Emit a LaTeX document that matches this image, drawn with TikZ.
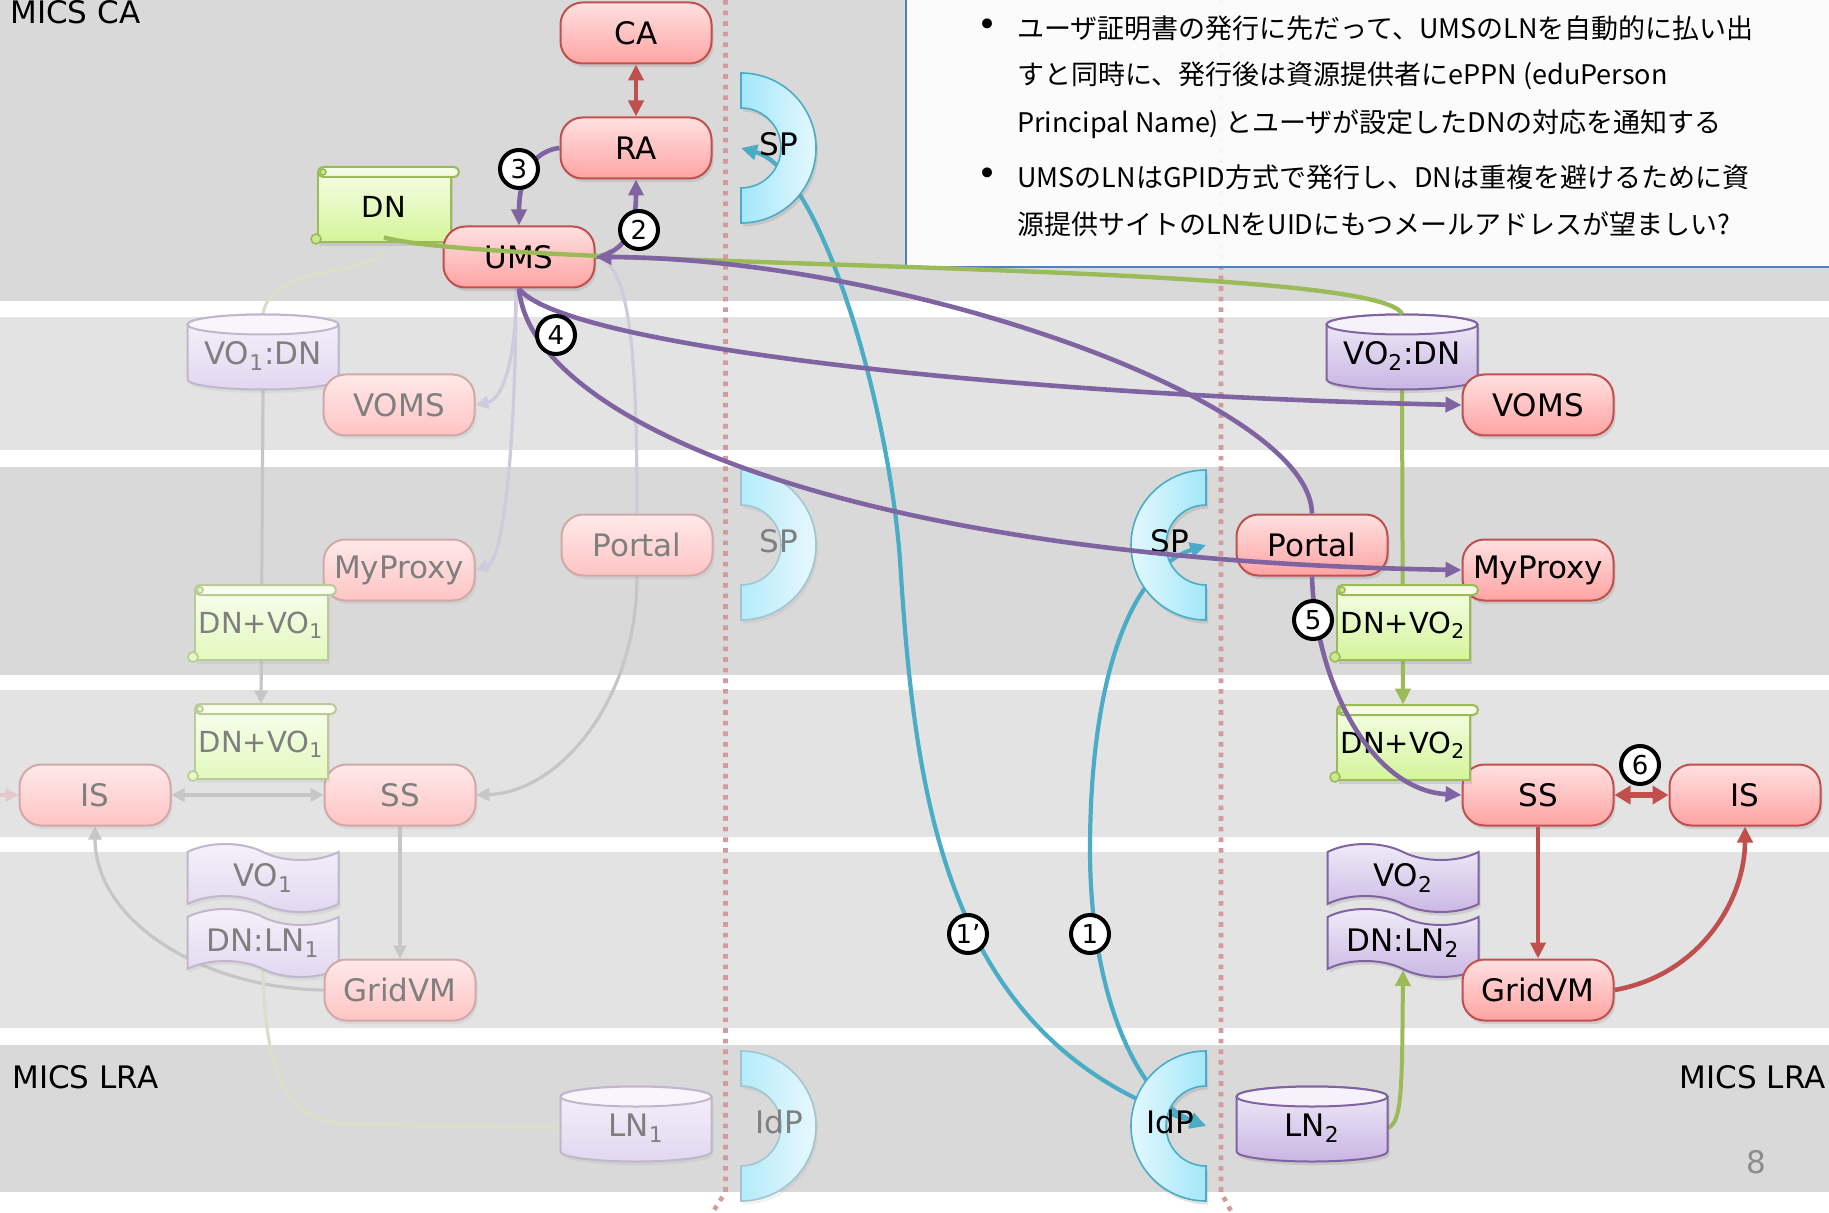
\documentclass[tikz,border=0pt]{standalone}
\usepackage{fontspec}
\setmainfont{DejaVu Sans}
\newfontfamily\jpfont{Noto Sans CJK JP}
\usetikzlibrary{arrows.meta,shapes.symbols,shadows}
\pgfdeclarelayer{back}
\pgfdeclarelayer{under}
\pgfsetlayers{back,under,main}

\definecolor{bandD}{HTML}{D9D9D9}
\definecolor{bandL}{HTML}{E3E3E3}
\definecolor{cRed}{HTML}{C0504D}
\definecolor{cPur}{HTML}{8064A2}
\definecolor{cGrn}{HTML}{9BBB59}
\definecolor{cCya}{HTML}{4BACC6}
\definecolor{pinkT}{HTML}{FFE0E0}
\definecolor{pinkB}{HTML}{FFA4A4}
\definecolor{grnT}{HTML}{F4FDE4}
\definecolor{grnB}{HTML}{D4F59A}
\definecolor{lavT}{HTML}{F1ECF8}
\definecolor{lavB}{HTML}{C9B6E4}
\definecolor{lavTop}{HTML}{F5F2FB}
\definecolor{cyaDA}{HTML}{A2E7FA}
\definecolor{cyaLA}{HTML}{E4F8FE}
\definecolor{cyaDF}{HTML}{B4EBFA}
\definecolor{cyaLF}{HTML}{E8F8FD}
\definecolor{dotc}{HTML}{D39B9B}
\definecolor{boxb}{HTML}{4F81BD}
\definecolor{fadeT}{HTML}{7F7F7F}
\definecolor{fadeLine}{HTML}{C6C6C6}
\definecolor{fadeLav}{HTML}{CFCBDD}
\definecolor{fadeGrn}{HTML}{D9E0C8}
\definecolor{fadeRed}{HTML}{E3C9C9}

\tikzset{
 lbl/.style={font=\fontsize{15.5}{18}\selectfont},
 shd/.style={drop shadow={shadow xshift=1pt, shadow yshift=-1.8pt, opacity=0.22}},
 shdF/.style={drop shadow={shadow xshift=1pt, shadow yshift=-1.8pt, opacity=0.1}},
 pillbase/.style={rectangle, rounded corners=11pt, line width=1pt, minimum width=75.5pt, minimum height=30.5pt, inner sep=0pt, lbl},
 pill/.style={pillbase, draw=cRed, top color=pinkT, bottom color=pinkB, shd},
 pillF/.style={pillbase, draw=cRed!35!bandD, top color=pinkT!70!white, bottom color=pinkB!65!white, text=fadeT, shdF},
 tapebase/.style={tape, tape bend top=out and in, tape bend bottom=out and in, tape bend height=8pt, line width=1pt, minimum width=75.5pt, minimum height=34pt, inner sep=0pt, lbl},
 tapeA/.style={tapebase, draw=cPur, top color=lavT, bottom color=lavB, shd},
 tapeF/.style={tapebase, draw=cPur!35!bandL, top color=lavT!70!white, bottom color=lavB!55!white, text=fadeT, shdF},
 cylbodyA/.style={draw=cPur, line width=1pt, top color=lavT, bottom color=lavB, shd},
 cylbodyF/.style={draw=cPur!35!bandL, line width=1pt, top color=lavT!70!white, bottom color=lavB!55!white, shdF},
 cyltopA/.style={draw=cPur, line width=1pt, fill=lavTop},
 cyltopF/.style={draw=cPur!35!bandL, line width=1pt, fill=lavTop!70!white},
 cyltextA/.style={lbl, minimum width=75.5pt, minimum height=37.5pt, inner sep=0pt, yshift=-2pt},
 cyltextF/.style={cyltextA, text=fadeT},
 scrbodyA/.style={draw=cGrn, line width=1pt, top color=grnT, bottom color=grnB, shd},
 scrbodyF/.style={draw=cGrn!50!bandD, line width=1pt, top color=grnT!70!white, bottom color=grnB!65!white, shdF},
 scrrollA/.style={draw=cGrn, line width=1pt, fill=grnT, rounded corners=2.5pt},
 scrrollF/.style={draw=cGrn!50!bandD, line width=1pt, fill=grnT!70!white, rounded corners=2.5pt},
 scrcurlA/.style={draw=cGrn, line width=0.8pt, fill=grnB!80!cGrn},
 scrcurlF/.style={draw=cGrn!50!bandD, line width=0.8pt, fill=grnB!60!white},
 scrtextA/.style={font=\fontsize{14.5}{17}\selectfont, minimum width=66pt, minimum height=40pt, inner sep=0pt},
 scrtextF/.style={scrtextA, text=fadeT},
 crescA/.style={draw=cCya, line width=0.8pt, shd},
 crescF/.style={draw=cCya!40!bandD, line width=0.8pt, shdF},
 cresctextA/.style={lbl, inner sep=0pt},
 cresctextF/.style={lbl, inner sep=0pt, text=fadeT},
 circ/.style={circle, draw=black, line width=2pt, fill=white, minimum size=19pt, inner sep=0pt, font=\fontsize{13}{15}\selectfont},
 jp/.style={font=\jpfont\fontsize{13.5}{16}\selectfont, inner sep=0pt, anchor=west},
 bul/.style={font=\fontsize{17}{18}\selectfont, inner sep=0pt},
 mics/.style={font=\fontsize{15.5}{18}\selectfont, inner sep=0pt},
 dotline/.style={draw=dotc, line width=2.3pt, dash pattern=on 2.3pt off 3pt},
 >={Triangle[length=8pt,width=7.5pt]},
 arP/.style={draw=cPur, line width=2.3pt, ->},
 arC/.style={draw=cCya, line width=2.1pt, <->},
 arR/.style={draw=cRed, line width=2.3pt, ->},
 arRR/.style={draw=cRed, line width=2.2pt, <->},
 arRRt/.style={draw=cRed, line width=3pt, <->, >={Triangle[length=8pt,width=9pt]}},
 arG/.style={draw=cGrn, line width=2pt, ->},
 lnG/.style={draw=cGrn, line width=2.2pt},
 arF/.style={draw=fadeLine, line width=1.6pt, ->, >={Triangle[length=6.5pt,width=6.5pt]}},
 arFF/.style={arF, <->},
 arFL/.style={arF, draw=fadeLav},
 lnFL/.style={draw=fadeLav, line width=1.6pt},
 lnFG/.style={draw=fadeGrn, line width=1.6pt},
}

\newcommand\Scroll[5]{%
 \path[scrbody#5] ({#2-66},{#3-35}) rectangle ({#2+67},{#3+35});
 \path[scrroll#5] ({#2-66},{#3-40}) rectangle ({#2+75},{#3-30});
 \path[scrcurl#5] ({#2-68},{#3+32}) circle[radius=5];
 \path[scrcurl#5] ({#2-61},{#3-35}) circle[radius=3];
 \node[scrtext#5] (#1) at (#2,#3) {#4};}

\newcommand\Cyl[5]{%
 \path[cylbody#5] ({#2-75.5},{#3-27.5}) -- ({#2-75.5},{#3+27.5}) arc[start angle=180,end angle=0,x radius=75.5,y radius=10] -- ({#2+75.5},{#3-27.5}) arc[start angle=0,end angle=-180,x radius=75.5,y radius=10] -- cycle;
 \path[cyltop#5] (#2,{#3-27.5}) ellipse[x radius=75.5,y radius=10];
 \node[cyltext#5] (#1) at (#2,#3) {#4};}

\newcommand\CrescR[5]{%
 \path[cresc#5, left color=cyaD#5, right color=cyaL#5] (#2,{#3-75}) arc[start angle=-90,end angle=90,radius=75] -- (#2,{#3+40}) arc[start angle=90,end angle=-90,radius=40] -- cycle;
 \coordinate (#1c) at (#2,#3);
 \node[cresctext#5] (#1) at ({#2+38},{#3-4}) {#4};}

\newcommand\CrescL[5]{%
 \path[cresc#5, left color=cyaL#5, right color=cyaD#5] (#2,{#3-75}) arc[start angle=-90,end angle=-270,radius=75] -- (#2,{#3+40}) arc[start angle=90,end angle=270,radius=40] -- cycle;
 \coordinate (#1c) at (#2,#3);
 \node[cresctext#5] (#1) at ({#2-36},{#3-4}) {#4};}

\begin{document}
\begin{tikzpicture}[x=0.5pt,y=-0.5pt]
\useasboundingbox (0,0) rectangle (1829,1213);

\begin{pgfonlayer}{back}
 \fill[white] (0,0) rectangle (1829,1213);
 \fill[bandD] (0,0) rectangle (1829,301);
 \fill[bandL] (0,317) rectangle (1829,450);
 \fill[bandD] (0,467) rectangle (1829,675);
 \fill[bandL] (0,690) rectangle (1829,837);
 \fill[bandL] (0,852) rectangle (1829,1028);
 \fill[bandD] (0,1045) rectangle (1829,1192);
 \draw[dotline] (725.5,0) -- (725.5,1192) -- (711,1215);
 \draw[dotline] (1221,0) -- (1221,1192) -- (1233,1215);
 \path[fill=white, fill opacity=0.9, draw=boxb, line width=1pt] (906,-10) rectangle (1840,267);
\end{pgfonlayer}

% text box
\node[bul] (b1) at (988,28) {•};
\node[jp] (t1) at (1017,28) {ユーザ証明書の発行に先だって、UMSのLNを自動的に払い出};
\node[jp] (t2) at (1017,76) {すと同時に、発行後は資源提供者にePPN (eduPerson};
\node[jp] (t3) at (1017,124) {Principal Name) とユーザが設定したDNの対応を通知する};
\node[bul] (b2) at (988,177) {•};
\node[jp] (t4) at (1017,177) {UMSのLNはGPID方式で発行し、DNは重複を避けるために資};
\node[jp] (t5) at (1017,224) {源提供サイトのLNをUIDにもつメールアドレスが望ましい?};

% cylinders
\Cyl{vo1dn}{263}{352}{VO\textsubscript{1}:DN}{F}
\Cyl{vo2dn}{1402}{352}{VO\textsubscript{2}:DN}{A}
\Cyl{ln1}{636}{1124}{LN\textsubscript{1}}{F}
\Cyl{ln2}{1312}{1124}{LN\textsubscript{2}}{A}

% tapes
\node[tapeF] (vo1) at (263,878) {VO\textsubscript{1}};
\node[tapeF] (dnln1) at (263,943) {DN:LN\textsubscript{1}};
\node[tapeA] (vo2) at (1403,878) {VO\textsubscript{2}};
\node[tapeA] (dnln2) at (1403,943) {DN:LN\textsubscript{2}};

% DN scroll
\Scroll{dn}{384}{207}{DN}{A}

% pills
\node[pill] (ca) at (636,33) {CA};
\node[pill] (ra) at (636,148) {RA};
\node[pill] (ums) at (519,257) {UMS};
\node[pill] (vomsR) at (1538,405) {VOMS};
\node[pill] (portalR) at (1312,545) {Portal};
\node[pill] (myproxyR) at (1538,570) {MyProxy};
\node[pill] (ssR) at (1538,795) {SS};
\node[pill] (isR) at (1745,795) {IS};
\node[pill] (gridvmR) at (1538,990) {GridVM};
\node[pillF] (vomsL) at (399,405) {VOMS};
\node[pillF] (myproxyL) at (399,570) {MyProxy};
\node[pillF] (portalL) at (637,545) {Portal};
\node[pillF] (isL) at (95,795) {IS};
\node[pillF] (ssL) at (400,795) {SS};
\node[pillF] (gridvmL) at (400,990) {GridVM};

% scrolls
\Scroll{dnvo1a}{261}{625}{DN+VO\textsubscript{1}}{F}
\Scroll{dnvo1b}{261}{744}{DN+VO\textsubscript{1}}{F}
\Scroll{dnvo2a}{1403}{625}{DN+VO\textsubscript{2}}{A}
\Scroll{dnvo2b}{1403}{745}{DN+VO\textsubscript{2}}{A}

% crescents
\CrescR{spA}{741}{148}{SP}{A}
\CrescR{spM}{741}{545}{SP}{F}
\CrescR{idpL}{741}{1126}{IdP}{F}
\CrescL{spB}{1206}{545}{SP}{A}
\CrescL{idpB}{1206}{1126}{IdP}{A}

\coordinate (ledge) at (-10,795);

% connectors beneath nodes
\begin{pgfonlayer}{under}
 % faded
 \draw[lnFG] ([yshift=-2pt]dn.south) .. controls (370,275) and (270,265) .. ([yshift=2pt]vo1dn.north);
 \draw[arF] ([yshift=2pt]vo1dn.south) -- (dnvo1b.north);
 \draw[arFL] ([xshift=-1.5pt]ums.south) .. controls (516,370) and (500,400) .. (vomsL.east);
 \draw[arFL] ([xshift=-1.5pt]ums.south) .. controls (516,430) and (505,560) .. (myproxyL.east);
 \draw[lnFL] (portalL.north) .. controls (637,350) and (630,262) .. (ums.east);
 \draw[arF] (portalL.south) .. controls (637,700) and (560,792) .. (ssL.east);
 \draw[arFF] (isL.east) -- (ssL.west);
 \draw[arF] (ssL.south) -- (gridvmL.north);
 \draw[arF] (gridvmL.west) .. controls (200,988) and (95,920) .. (isL.south);
 \draw[lnFG] (ln1.west) -- (350,1124) .. controls (290,1124) and (265,1080) .. (dnln1.south);
 \draw[arF, draw=fadeRed] (ledge) -- (isL.west);
 % cyan
 \draw[arC] (spAc) .. controls (820,170) and (888,400) .. (900,560) .. controls (915,800) and (945,1040) .. (idpBc);
 \draw[arC] (spBc) .. controls (1130,570) and (1090,680) .. (1090,850) .. controls (1090,1000) and (1140,1100) .. (idpBc);
 % green
 \draw[arG] ([yshift=2pt]vo2dn.south) -- (dnvo2b.north);
 \draw[arG] (ln2.east) .. controls (1402,1122) and (1402,1090) .. (dnln2.south);
\end{pgfonlayer}

% connectors on top
\draw[arRR] (ca.south) -- (ra.north);
\draw[arP] (ra.west) .. controls (525,152) and (519,190) .. (ums.north);
\draw[arP] (ums.east) .. controls (630,252) and (636,220) .. (ra.south);
\draw[lnG] ([yshift=5pt]dn.south) .. controls (500,270) and (1380,260) .. ([yshift=2pt]vo2dn.north);
\draw[arP] (portalR.north) .. controls (1310,400) and (900,258) .. (ums.east);
\draw[arP] (ums.south) .. controls (560,345) and (1000,395) .. (vomsR.west);
\draw[arP] (ums.south) .. controls (530,420) and (850,560) .. (myproxyR.west);
\draw[arP] (portalR.south) .. controls (1315,680) and (1370,790) .. (ssR.west);
\draw[arR] (ssR.south) -- (gridvmR.north);
\draw[arR] (gridvmR.east) .. controls (1700,975) and (1745,900) .. (isR.south);
\draw[arRRt] (ssR.east) -- (isR.west);

% circled numbers
\node[circ] (n3) at (519,169) {3};
\node[circ] (n2) at (639,230) {2};
\node[circ] (n4) at (556,335) {4};
\node[circ] (n5) at (1313,620) {5};
\node[circ] (n6) at (1640,765) {6};
\node[circ] (n1p) at (968,934) {1’};
\node[circ] (n1) at (1090,934) {1};

% labels
\node[mics, anchor=base west] (micsca) at (10,24) {MICS CA};
\node[mics, anchor=base west] (micslraL) at (12,1088) {MICS LRA};
\node[mics, anchor=base east] (micslraR) at (1826,1088) {MICS LRA};
\node[mics, anchor=base, text=black!45] (pnum) at (1756,1173) {8};
\end{tikzpicture}
\end{document}
